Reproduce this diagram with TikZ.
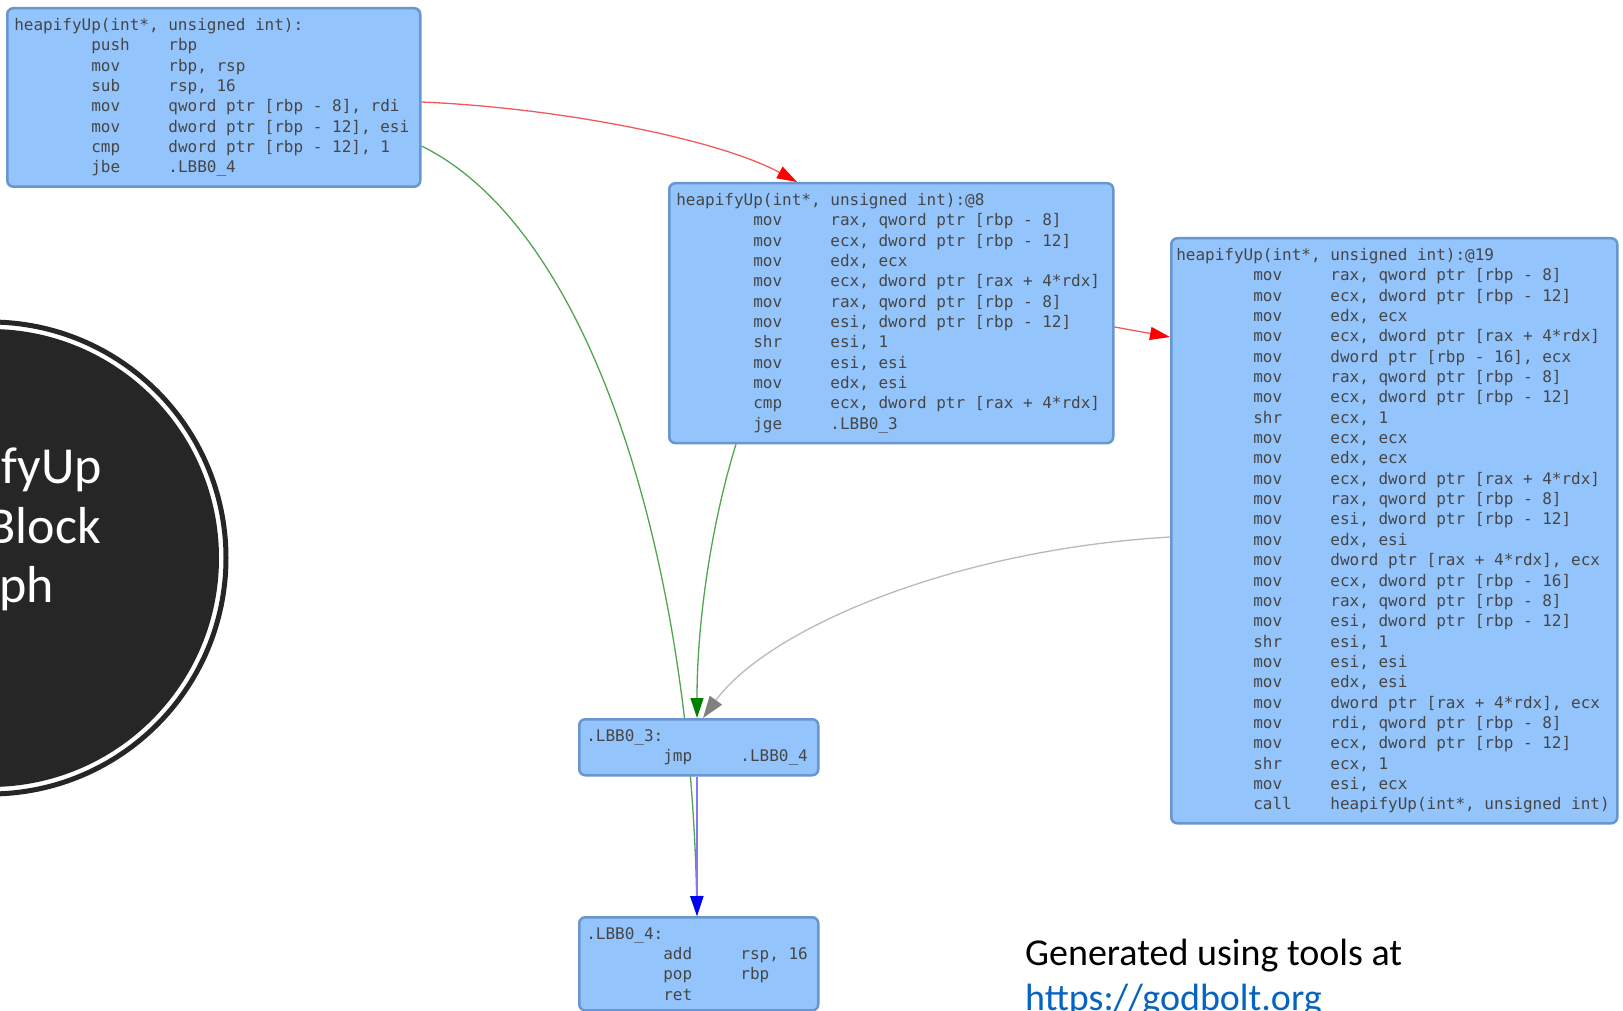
\documentclass[tikz,border=0pt]{standalone}
\usepackage{fontspec}
\setmainfont{Carlito}
\newfontfamily\codefont{DejaVu Sans Mono}
\usepackage{tikz}
\usetikzlibrary{calc}
\usetikzlibrary{arrows.meta}
\usetikzlibrary{backgrounds}
\definecolor{BlockFill}{RGB}{148,196,252}
\definecolor{BlockLine}{RGB}{104,150,208}
\definecolor{CodeGrey}{RGB}{70,70,70}
\definecolor{CircleDark}{RGB}{38,38,38}
\definecolor{LinkBlue}{RGB}{5,99,193}
\definecolor{EdgeRed}{RGB}{240,90,90}
\definecolor{EdgeGreen}{RGB}{80,165,80}
\definecolor{EdgeGrey}{RGB}{185,185,185}
\definecolor{EdgeBlue}{RGB}{130,120,240}
\DeclareRobustCommand{\codestyle}{\codefont\fontsize{16}{20.35}\selectfont\frenchspacing}
\newcommand{\asm}[2]{\hspace*{\dimexpr8\fontcharwd\font`0\relax}\makebox[\dimexpr8\fontcharwd\font`0\relax][l]{#1}#2}

\begin{document}
\begin{tikzpicture}[x=1pt,y=-1pt]
       \tikzstyle{block}=[draw=BlockLine, fill=BlockFill, line width=2.5pt, rounded corners=6pt, anchor=north west, align=flush left, inner xsep=7pt, inner ysep=10pt, text=CodeGrey, font=\codestyle]
       \tikzstyle{flow}=[line width=1.3pt]
       \tikzstyle{title}=[anchor=base east, inner sep=0pt, text=white, font=\fontsize{52}{52}\selectfont]
        \useasboundingbox (0,0) rectangle (1623,1011);
        \fill[CircleDark] (-10,558) circle (229pt);
        \draw[CircleDark, line width=5pt] (-10,558) circle (236pt);
        \node[title] (ttl1) at (102,483) {fyUp};
        \node[title] (ttl2) at (101,543) {Block};
        \node[title] (ttl3) at (54,602) {ph};
        \node[block, text width=399pt] (entry) at (6,7) {heapifyUp(int*, unsigned int):\\
          \asm{push}{rbp}\\
          \asm{mov}{rbp, rsp}\\
          \asm{sub}{rsp, 16}\\
          \asm{mov}{qword ptr [rbp - 8], rdi}\\
          \asm{mov}{dword ptr [rbp - 12], esi}\\
          \asm{cmp}{dword ptr [rbp - 12], 1}\\
          \asm{jbe}{.LBB0\_4}};
        \node[block, text width=430pt] (bb8) at (668,182) {heapifyUp(int*, unsigned int):@8\\
          \asm{mov}{rax, qword ptr [rbp - 8]}\\
          \asm{mov}{ecx, dword ptr [rbp - 12]}\\
          \asm{mov}{edx, ecx}\\
          \asm{mov}{ecx, dword ptr [rax + 4*rdx]}\\
          \asm{mov}{rax, qword ptr [rbp - 8]}\\
          \asm{mov}{esi, dword ptr [rbp - 12]}\\
          \asm{shr}{esi, 1}\\
          \asm{mov}{esi, esi}\\
          \asm{mov}{edx, esi}\\
          \asm{cmp}{ecx, dword ptr [rax + 4*rdx]}\\
          \asm{jge}{.LBB0\_3}};
        \node[block, text width=436pt, inner xsep=5pt] (bb19) at (1170,237) {heapifyUp(int*, unsigned int):@19\\
          \asm{mov}{rax, qword ptr [rbp - 8]}\\
          \asm{mov}{ecx, dword ptr [rbp - 12]}\\
          \asm{mov}{edx, ecx}\\
          \asm{mov}{ecx, dword ptr [rax + 4*rdx]}\\
          \asm{mov}{dword ptr [rbp - 16], ecx}\\
          \asm{mov}{rax, qword ptr [rbp - 8]}\\
          \asm{mov}{ecx, dword ptr [rbp - 12]}\\
          \asm{shr}{ecx, 1}\\
          \asm{mov}{ecx, ecx}\\
          \asm{mov}{edx, ecx}\\
          \asm{mov}{ecx, dword ptr [rax + 4*rdx]}\\
          \asm{mov}{rax, qword ptr [rbp - 8]}\\
          \asm{mov}{esi, dword ptr [rbp - 12]}\\
          \asm{mov}{edx, esi}\\
          \asm{mov}{dword ptr [rax + 4*rdx], ecx}\\
          \asm{mov}{ecx, dword ptr [rbp - 16]}\\
          \asm{mov}{rax, qword ptr [rbp - 8]}\\
          \asm{mov}{esi, dword ptr [rbp - 12]}\\
          \asm{shr}{esi, 1}\\
          \asm{mov}{esi, esi}\\
          \asm{mov}{edx, esi}\\
          \asm{mov}{dword ptr [rax + 4*rdx], ecx}\\
          \asm{mov}{rdi, qword ptr [rbp - 8]}\\
          \asm{mov}{ecx, dword ptr [rbp - 12]}\\
          \asm{shr}{ecx, 1}\\
          \asm{mov}{esi, ecx}\\
          \asm{call}{heapifyUp(int*, unsigned int)}};
        \node[block, text width=225pt] (lbb3) at (578,718) {.LBB0\_3:\\
          \asm{jmp}{.LBB0\_4}};
        \node[block, text width=225pt] (lbb4) at (578,916) {.LBB0\_4:\\
          \asm{add}{rsp, 16}\\
          \asm{pop}{rbp}\\
          \asm{ret}{}};
        \begin{pgfonlayer}{background}
        \draw[flow, EdgeGreen, -{Triangle[length=20pt, width=13pt, color=green!50!black]}] ([yshift=-139pt]entry.north east) .. controls +(171,84) and +(-7,-356) .. ([xshift=119pt]lbb4.north west);
        \end{pgfonlayer}
        \draw[flow, EdgeRed, -{Triangle[length=20pt, width=13pt, color=red]}] ([yshift=-95pt]entry.north east) .. controls +(141,6) and +(-77,-42) .. ([xshift=129pt]bb8.north west);
        \draw[flow, EdgeRed, -{Triangle[length=20pt, width=13pt, color=red]}] ([yshift=-145pt]bb8.north east) -- ([yshift=-100pt]bb19.north west);
        \draw[flow, EdgeGreen, -{Triangle[length=20pt, width=13pt, color=green!50!black]}] ([xshift=68pt]bb8.south west) .. controls +(-24,77) and +(0,-98) .. ([xshift=119pt]lbb3.north west);
        \draw[flow, EdgeGrey, -{Triangle[length=22pt, width=15pt, color=gray]}] ([yshift=-300pt]bb19.north west) .. controls +(-220,13) and +(64,-88) .. ([xshift=125pt]lbb3.north west);
        \draw[flow, EdgeBlue, -{Triangle[length=20pt, width=13pt, color=blue]}] ([xshift=119pt]lbb3.south west) -- ([xshift=119pt]lbb4.north west);
        \node[anchor=base west, inner sep=0pt, font=\fontsize{38}{46}\selectfont] (gen) at (1025,965) {Generated using tools at};
        \node[anchor=base west, inner sep=0pt, text=LinkBlue, font=\fontsize{38}{46}\selectfont] (url) at ([yshift=-45pt]gen.base west) {https://godbolt.org};
      \end{tikzpicture}
\end{document}
